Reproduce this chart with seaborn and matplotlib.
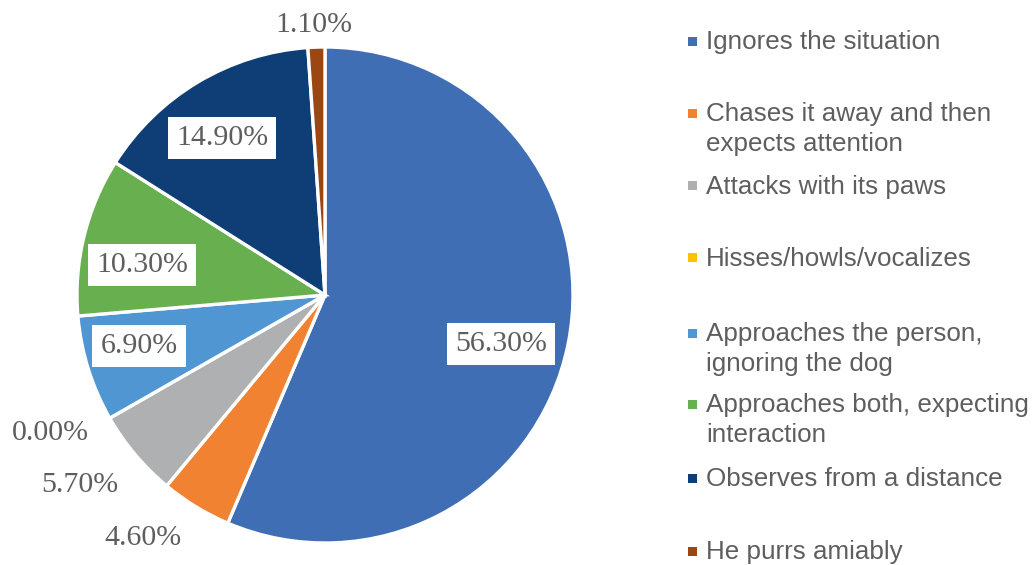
import matplotlib
matplotlib.use("Agg")
import matplotlib.pyplot as plt
from matplotlib.patches import Rectangle
import seaborn as sns

# Cat reactions when a dog approaches (share of responses, %)
categories = [
    "Ignores the situation",
    "Chases it away and then\nexpects attention",
    "Attacks with its paws",
    "Hisses/howls/vocalizes",
    "Approaches the person,\nignoring the dog",
    "Approaches both, expecting\ninteraction",
    "Observes from a distance",
    "He purrs amiably",
]
shares = [56.30, 4.60, 5.70, 0.00, 6.90, 10.30, 14.90, 1.10]
colors = ["#406EB4", "#F08232", "#AEB0B2", "#FFC000",
          "#5096D3", "#67AF4F", "#0E3E75", "#9A4713"]

# label placement (pie radius units, relative to centre) and whether boxed
label_pos = [(0.710, -0.197), (-0.734, -0.980), (-0.988, -0.766), (-1.109, -0.556),
             (-0.750, -0.206), (-0.738, 0.121), (-0.415, 0.633), (-0.044, 1.089)]
label_boxed = [True, False, False, False, True, True, True, False]

sns.set_theme(style="white")
plt.rcParams["font.family"] = ["Liberation Sans", "DejaVu Sans"]

W, H, DPI = 1036, 565, 100
fig = plt.figure(figsize=(W / DPI, H / DPI), dpi=DPI)
fig.patch.set_facecolor("white")

# pie centre at (325, 295) px, radius 248 px
cx, cy, r_px, half = 325, 295, 248, 300
ax = fig.add_axes([(cx - half) / W, (H - (cy + half)) / H, 2 * half / W, 2 * half / H])

ax.pie(shares, colors=colors, startangle=90, counterclock=False, radius=1.0,
       wedgeprops=dict(edgecolor="white", linewidth=2.4), normalize=True)

lim = half / r_px
ax.set_xlim(-lim, lim)
ax.set_ylim(-lim, lim)
ax.set_aspect("equal")
ax.axis("off")

text_color = "#5E5E5E"
for v, (x, y), boxed in zip(shares, label_pos, label_boxed):
    kw = dict(ha="center", va="center", fontsize=21.5, color=text_color,
              family=["Liberation Serif", "DejaVu Serif"])
    if boxed:
        kw["bbox"] = dict(boxstyle="square,pad=0.27", facecolor="white", edgecolor="none")
    ax.text(x, y, f"{v:.2f}%", **kw)

# legend drawn on the right side
row_y = [42, 114, 187, 259, 334, 405, 479, 552]
line_gap = 30
marker_x, text_x, msize = 692, 706, 9
for label, col, y0 in zip(categories, colors, row_y):
    fig.patches.append(Rectangle(((marker_x - msize / 2) / W, (H - y0 + 1 - msize / 2) / H),
                                 msize / W, msize / H, transform=fig.transFigure,
                                 facecolor=col, edgecolor="none"))
    for k, line in enumerate(label.split("\n")):
        fig.text(text_x / W, (H - (y0 + k * line_gap)) / H, line, ha="left",
                 va="center", fontsize=18.7, color=text_color)

fig.savefig("out.png", dpi=DPI, facecolor="white")
